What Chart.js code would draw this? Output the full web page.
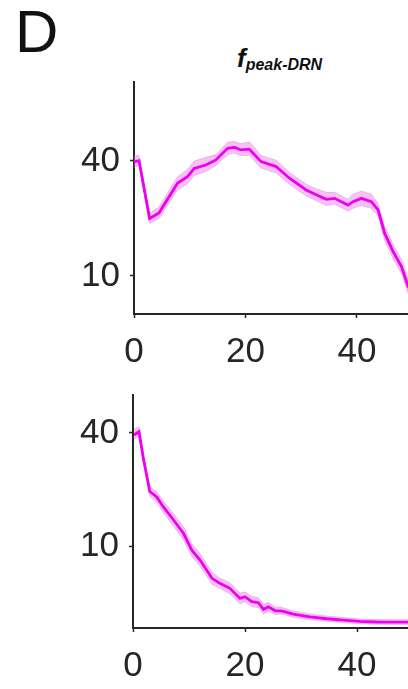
<!DOCTYPE html>
<html lang="en">
<head>
<meta charset="UTF-8">
<title>f peak-DRN</title>
<script src="https://cdn.jsdelivr.net/npm/chart.js@4"></script>
<style>
html,body{margin:0;padding:0;background:#fff;width:408px;height:689px;overflow:hidden}
body{position:relative;font-family:"Liberation Sans",Arial,sans-serif;color:#262626}
#lblD{position:absolute;left:15px;top:2px;font-size:60px;line-height:60px;color:#111}
#ttl{position:absolute;left:237px;top:45px;font-size:26px;line-height:26px;font-weight:700;font-style:italic;color:#111;white-space:nowrap}
#ttl span{font-size:16px;position:relative;top:3px}
canvas{position:absolute;left:0}
#cTop{top:70px}
#cBot{top:383px}
</style>
</head>
<body>
<div id="lblD">D</div>
<div id="ttl">f<span>peak-DRN</span></div>
<canvas id="cTop" width="431" height="310"></canvas>
<canvas id="cBot" width="431" height="311"></canvas>

<script>
// tick labels
const xTicks=[0,20,40];
const yTicks=[10,40];

// top panel: mean and shaded band
const topX   =[0,0.9,2.8,4.5,7.8,9.6,10.8,12.9,14.7,16.8,18.0,19.2,20.7,22.8,25.5,27.9,30.9,32.7,34.5,36.0,38.4,39.3,40.8,42.6,43.8,45.0,46.5,48.0,49.2,49.6];
const topMean=[39.7,40.2,20.0,21.4,30.6,33.1,36.6,38.1,40.5,46.6,47.2,45.7,46.1,39.7,37.4,32.5,28.2,26.6,25.2,25.5,23.5,24.5,25.5,24.5,22.2,16.7,13.4,11.2,8.8,8.5];
const topLow =[37.0,38.0,18.8,20.0,28.2,30.4,33.6,35.2,37.8,43.2,44.0,42.6,42.8,36.8,34.6,30.2,26.2,24.8,23.4,23.8,21.9,22.6,23.4,22.6,20.6,15.3,12.3,10.3,8.1,7.8];
const topHigh=[42.5,42.8,21.3,23.0,33.0,36.2,40.0,41.8,43.2,50.2,50.6,49.2,50.4,42.8,40.4,34.8,30.2,28.6,27.4,27.4,25.2,26.8,27.8,26.8,24.0,18.2,14.6,12.2,9.6,9.3];

// bottom panel
const botX   =[0.2,1.07,1.8,3.0,4.2,5.4,7.2,9.0,10.5,12.0,14.1,15.5,17.3,19.1,20.0,21.2,22.4,23.3,24.2,25.4,26.5,28.6,31.6,34.6,37.6,40.5,43.5,46.5,49.5];
const botMean=[39.0,40.6,29.9,19.5,18.3,16.2,13.8,11.7,9.5,8.4,6.73,6.33,5.95,5.26,5.37,5.05,4.99,4.60,4.75,4.52,4.52,4.34,4.20,4.10,4.03,3.97,3.94,3.93,3.93];
const botLow =[37.0,38.5,28.3,18.4,17.2,15.1,12.8,10.8,8.8,7.8,6.25,5.95,5.55,4.92,5.05,4.75,4.70,4.35,4.50,4.32,4.34,4.18,4.06,3.97,3.91,3.86,3.83,3.82,3.82];
const botHigh=[42.0,43.0,31.6,20.7,19.5,17.4,14.9,12.7,10.3,9.1,7.25,6.75,6.38,5.62,5.70,5.38,5.30,4.88,5.02,4.74,4.72,4.51,4.35,4.24,4.16,4.09,4.06,4.05,4.05];

const INK='#262626', LINE='#ee00ee', BAND='rgba(238,110,238,0.42)';
Chart.defaults.font.family='"Liberation Sans", Arial, sans-serif';
Chart.defaults.font.size=35;
Chart.defaults.color=INK;

function pts(xs,ys){return xs.map((x,i)=>({x:x,y:ys[i]}))}

function makePanel(id,xs,mean,lo,hi,o){
  return new Chart(document.getElementById(id),{
    type:'line',
    data:{datasets:[
      {data:pts(xs,mean),borderColor:LINE,borderWidth:2.8,pointRadius:0,fill:false,order:0},
      {data:pts(xs,hi),borderColor:'rgba(225,110,225,0.5)',borderWidth:0.8,pointRadius:0,fill:'+1',backgroundColor:BAND,order:1},
      {data:pts(xs,lo),borderColor:'rgba(225,110,225,0.5)',borderWidth:0.8,pointRadius:0,fill:false,order:1}
    ]},
    options:{
      responsive:false,animation:false,
      layout:{padding:{top:12,left:0,right:0,bottom:0}},
      plugins:{legend:{display:false},tooltip:{enabled:false}},
      scales:{
        x:{type:'linear',min:0,max:o.xmax,
          afterBuildTicks:s=>{s.ticks=xTicks.map(v=>({value:v}))},
          afterFit:s=>{s.height=66;s.paddingLeft=0;s.paddingRight=0},
          ticks:{padding:13,callback:v=>v,maxRotation:0},
          grid:{drawOnChartArea:false,drawTicks:true,tickLength:4,tickWidth:1.5,tickColor:INK},
          border:{display:true,color:INK,width:2}},
        y:{type:'logarithmic',min:o.ymin,max:o.ymax,
          afterBuildTicks:s=>{s.ticks=yTicks.map(v=>({value:v}))},
          afterFit:s=>{s.width=o.left;s.paddingTop=0;s.paddingBottom=0},
          ticks:{padding:10,callback:v=>v},
          grid:{drawOnChartArea:false,drawTicks:true,tickLength:4,tickWidth:1.5,tickColor:INK},
          border:{display:true,color:INK,width:2}}
      }
    }
  });
}

makePanel('cTop',topX,topMean,topLow,topHigh,{xmax:53.3,ymin:6.32,ymax:103.7,left:134});
makePanel('cBot',botX,botMean,botLow,botHigh,{xmax:53.2,ymin:3.66,ymax:63.7,left:133});
</script>
</body>
</html>
